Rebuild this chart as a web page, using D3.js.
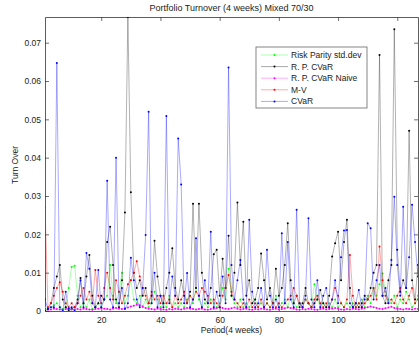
<!DOCTYPE html>
<html>
<head>
<meta charset="utf-8">
<script src="https://cdn.jsdelivr.net/npm/d3@7"></script>
<style>
  body { margin: 0; background: #fff; }
  svg { display: block; font-family: "Liberation Sans", Arial, sans-serif; }
</style>
</head>
<body>
<div id="chart"></div>
<script>
// periods 1..127
const periods = d3.range(1, 128);

const riskParity = [
  0.001, 0.0005, 0.001, 0.0015, 0.002, 0.001, 0.0005, 0.001, 0.006, 0.0115,
  0.0118, 0.004, 0.001, 0.002, 0.001, 0.003, 0.0005, 0.001, 0.002, 0.001,
  0.003, 0.004, 0.012, 0.004, 0.002, 0.005, 0.010, 0.002, 0.004, 0.008,
  0.003, 0.002, 0.004, 0.001, 0.003, 0.001, 0.002, 0.005, 0.003, 0.001,
  0.002, 0.001, 0.004, 0.001, 0.002, 0.001, 0.002, 0.001, 0.003, 0.004,
  0.002, 0.006, 0.003, 0.001, 0.002, 0.001, 0.003, 0.002, 0.001, 0.002,
  0.006, 0.003, 0.011, 0.004, 0.002, 0.001, 0.003, 0.001, 0.002, 0.001,
  0.002, 0.003, 0.001, 0.002, 0.001, 0.002, 0.001, 0.002, 0.004, 0.001,
  0.002, 0.003, 0.001, 0.004, 0.002, 0.001, 0.002, 0.001, 0.003, 0.002,
  0.001, 0.007, 0.003, 0.001, 0.002, 0.001, 0.002, 0.001, 0.003, 0.001,
  0.002, 0.001, 0.002, 0.001, 0.002, 0.001, 0.002, 0.003, 0.001, 0.004,
  0.002, 0.006, 0.004, 0.007, 0.0098, 0.005, 0.003, 0.002, 0.004, 0.001,
  0.003, 0.002, 0.005, 0.003, 0.001, 0.002, 0.004
];

const rpCvar = [
  0.0, 0.0005, 0.002, 0.006, 0.009, 0.012, 0.003, 0.001, 0.0, 0.0005,
  0.001, 0.003, 0.0086, 0.002, 0.009, 0.0146, 0.004, 0.001, 0.002, 0.004,
  0.003, 0.018, 0.022, 0.012, 0.003, 0.001, 0.008, 0.0257, 0.0767, 0.031,
  0.010, 0.006, 0.008, 0.004, 0.006, 0.002, 0.004, 0.0183, 0.009, 0.004,
  0.002, 0.006, 0.010, 0.0164, 0.006, 0.003, 0.008, 0.004, 0.002, 0.005,
  0.028, 0.006, 0.028, 0.010, 0.003, 0.002, 0.006, 0.0148, 0.016, 0.004,
  0.0136, 0.006, 0.0196, 0.004, 0.010, 0.0283, 0.012, 0.0233, 0.004, 0.008,
  0.002, 0.003, 0.006, 0.015, 0.008, 0.003, 0.006, 0.002, 0.011, 0.004,
  0.006, 0.012, 0.0229, 0.008, 0.002, 0.004, 0.001, 0.002, 0.006, 0.002,
  0.001, 0.002, 0.003, 0.0055, 0.002, 0.001, 0.004, 0.0142, 0.0177, 0.0207,
  0.008, 0.018, 0.0238, 0.006, 0.001, 0.002, 0.001, 0.002, 0.004, 0.003,
  0.006, 0.010, 0.012, 0.0668, 0.004, 0.002, 0.008, 0.012, 0.0735, 0.016,
  0.005, 0.008, 0.006, 0.047, 0.008, 0.003, 0.012
];

const rpCvarNaive = [
  0.0005, 0.0003, 0.0004, 0.0006, 0.0005, 0.0004, 0.0003, 0.0005, 0.0006, 0.0004,
  0.0003, 0.0005, 0.0004, 0.0006, 0.0005, 0.0004, 0.0003, 0.0005, 0.0006, 0.0008,
  0.0006, 0.0005, 0.0004, 0.0006, 0.0008, 0.0006, 0.0005, 0.0007, 0.0009, 0.0012,
  0.0014, 0.0016, 0.0015, 0.0012, 0.0008, 0.0006, 0.0005, 0.0004, 0.0006, 0.0005,
  0.0004, 0.0003, 0.0005, 0.0004, 0.0006, 0.0005, 0.0004, 0.0006, 0.0008, 0.0006,
  0.0005, 0.0004, 0.0005, 0.0006, 0.0004, 0.0003, 0.0005, 0.0006, 0.0008, 0.0010,
  0.0008, 0.0006, 0.0005, 0.0007, 0.0009, 0.0006, 0.0004, 0.0005, 0.0006, 0.0004,
  0.0003, 0.0005, 0.0004, 0.0006, 0.0005, 0.0004, 0.0003, 0.0005, 0.0006, 0.0004,
  0.0005, 0.0007, 0.0009, 0.0008, 0.0006, 0.0004, 0.0003, 0.0005, 0.0004, 0.0006,
  0.0005, 0.0004, 0.0003, 0.0005, 0.0006, 0.0004, 0.0005, 0.0006, 0.0008, 0.0006,
  0.0004, 0.0003, 0.0005, 0.0004, 0.0006, 0.0005, 0.0004, 0.0006, 0.0008, 0.0010,
  0.0012, 0.0010, 0.0008, 0.0006, 0.0005, 0.0007, 0.0009, 0.0011, 0.0008, 0.0006,
  0.0005, 0.0004, 0.0006, 0.0005, 0.0004, 0.0006, 0.0005
];

const meanVar = [
  0.027, 0.001, 0.002, 0.004, 0.006, 0.0075, 0.005, 0.002, 0.001, 0.002,
  0.001, 0.002, 0.004, 0.006, 0.003, 0.005, 0.002, 0.0107, 0.004, 0.002,
  0.006, 0.010, 0.006, 0.003, 0.008, 0.005, 0.002, 0.004, 0.007, 0.008,
  0.010, 0.013, 0.009, 0.006, 0.004, 0.002, 0.005, 0.003, 0.004, 0.002,
  0.004, 0.002, 0.003, 0.001, 0.004, 0.002, 0.003, 0.005, 0.002, 0.004,
  0.003, 0.005, 0.004, 0.006, 0.005, 0.004, 0.002, 0.003, 0.002, 0.001,
  0.004, 0.006, 0.0094, 0.005, 0.003, 0.002, 0.001, 0.002, 0.001, 0.003,
  0.001, 0.002, 0.001, 0.003, 0.001, 0.002, 0.001, 0.002, 0.001, 0.002,
  0.001, 0.002, 0.003, 0.004, 0.006, 0.004, 0.002, 0.001, 0.003, 0.002,
  0.001, 0.003, 0.004, 0.002, 0.001, 0.002, 0.001, 0.003, 0.006, 0.004,
  0.002, 0.001, 0.003, 0.0146, 0.004, 0.001, 0.002, 0.001, 0.002, 0.003,
  0.004, 0.006, 0.003, 0.0168, 0.008, 0.004, 0.002, 0.003, 0.002, 0.004,
  0.006, 0.003, 0.002, 0.004, 0.006, 0.002, 0.003
];

const cvar = [
  0.003, 0.0005, 0.001, 0.001, 0.0647, 0.001, 0.0, 0.005, 0.0005, 0.001,
  0.0, 0.002, 0.008, 0.001, 0.0151, 0.011, 0.002, 0.001, 0.0107, 0.001,
  0.003, 0.034, 0.003, 0.001, 0.040, 0.002, 0.006, 0.0005, 0.002, 0.0139,
  0.008, 0.003, 0.001, 0.006, 0.0198, 0.052, 0.002, 0.010, 0.001, 0.004,
  0.001, 0.0509, 0.002, 0.009, 0.004, 0.045, 0.033, 0.002, 0.0099, 0.001,
  0.003, 0.019, 0.004, 0.001, 0.008, 0.002, 0.0207, 0.001, 0.005, 0.001,
  0.009, 0.002, 0.0635, 0.012, 0.003, 0.008, 0.0133, 0.003, 0.001, 0.0238,
  0.005, 0.001, 0.002, 0.006, 0.001, 0.016, 0.004, 0.001, 0.003, 0.001,
  0.0203, 0.002, 0.018, 0.003, 0.001, 0.0264, 0.002, 0.001, 0.004, 0.0242,
  0.003, 0.001, 0.008, 0.001, 0.004, 0.006, 0.001, 0.003, 0.008, 0.002,
  0.014, 0.021, 0.0211, 0.002, 0.001, 0.002, 0.0055, 0.001, 0.003, 0.0229,
  0.0216, 0.003, 0.008, 0.012, 0.004, 0.006, 0.002, 0.0133, 0.0298, 0.012,
  0.004, 0.0272, 0.006, 0.014, 0.0277, 0.018, 0.009
];

const seriesNames = ['Risk Parity std.dev', 'R. P. CVaR', 'R. P. CVaR Naive', 'M-V', 'CVaR'];
const seriesValues = [riskParity, rpCvar, rpCvarNaive, meanVar, cvar];
const seriesColors = ['#00ff00', '#000000', '#ff00ff', '#ff0000', '#0000ff'];

const xTicks = [20, 40, 60, 80, 100, 120];
const yTicks = [0, 0.01, 0.02, 0.03, 0.04, 0.05, 0.06, 0.07];

const titleText = 'Portfolio Turnover (4 weeks) Mixed 70/30';
const xLabel = 'Period(4 weeks)';
const yLabel = 'Turn Over';

const W = 419, H = 337;
const margin = { top: 17, right: 1, bottom: 26, left: 45 };

const svg = d3.select('#chart').append('svg')
  .attr('width', W)
  .attr('height', H);

const x = d3.scaleLinear()
  .domain([1, 127])
  .range([margin.left, W - margin.right]);

const yMax = d3.max(seriesValues, s => d3.max(s));
const y = d3.scaleLinear()
  .domain([0, yMax])
  .range([H - margin.bottom, margin.top]);

svg.append('defs').append('clipPath').attr('id', 'clip')
  .append('rect')
  .attr('x', margin.left).attr('y', margin.top)
  .attr('width', W - margin.left - margin.right)
  .attr('height', H - margin.top - margin.bottom);

const tickLen = 4;
const axisColor = '#333';

// bottom / top axes (ticks inward)
svg.append('g')
  .attr('transform', `translate(0,${H - margin.bottom})`)
  .call(d3.axisBottom(x).tickValues(xTicks).tickSizeInner(-tickLen).tickSizeOuter(0).tickPadding(6));
svg.append('g')
  .attr('transform', `translate(0,${margin.top})`)
  .call(d3.axisTop(x).tickValues(xTicks).tickSizeInner(-tickLen).tickSizeOuter(0).tickFormat(''));

svg.append('g')
  .attr('transform', `translate(${margin.left},0)`)
  .call(d3.axisLeft(y).tickValues(yTicks).tickSizeInner(-tickLen).tickSizeOuter(0).tickPadding(4)
    .tickFormat(d => d === 0 ? '0' : d3.format('.2f')(d)));
svg.append('g')
  .attr('transform', `translate(${W - margin.right},0)`)
  .call(d3.axisRight(y).tickValues(yTicks).tickSizeInner(-tickLen).tickSizeOuter(0).tickFormat(''));

svg.selectAll('.domain').attr('stroke', axisColor).attr('stroke-width', 0.8);
svg.selectAll('.tick line').attr('stroke', axisColor).attr('stroke-width', 0.7);
svg.selectAll('.tick text').attr('fill', '#222').style('font-size', '8.5px');

// lines, thin and light like the downscaled matlab plot
const plot = svg.append('g').attr('clip-path', 'url(#clip)');
const line = d3.line()
  .x((d, i) => x(periods[i]))
  .y(d => y(d));

seriesValues.forEach((vals, k) => {
  const g = plot.append('g');
  g.append('path')
    .datum(vals)
    .attr('d', line)
    .attr('fill', 'none')
    .attr('stroke', seriesColors[k])
    .attr('stroke-opacity', k === 1 ? 0.38 : 0.42)
    .attr('stroke-width', 0.8);
  g.selectAll('circle')
    .data(vals)
    .join('circle')
    .attr('cx', (d, i) => x(periods[i]))
    .attr('cy', d => y(d))
    .attr('r', 1)
    .attr('fill', seriesColors[k]);
});

// title and labels
svg.append('text')
  .attr('x', (margin.left + W - margin.right) / 2)
  .attr('y', 11)
  .attr('text-anchor', 'middle')
  .attr('fill', '#222')
  .style('font-size', '9px')
  .text(titleText);

svg.append('text')
  .attr('x', (margin.left + W - margin.right) / 2)
  .attr('y', 333)
  .attr('text-anchor', 'middle')
  .attr('fill', '#222')
  .style('font-size', '8.5px')
  .text(xLabel);

svg.append('text')
  .attr('transform', `translate(18,${(margin.top + H - margin.bottom) / 2 + 1}) rotate(-90)`)
  .attr('text-anchor', 'middle')
  .attr('fill', '#222')
  .style('font-size', '8.5px')
  .text(yLabel);

// legend
const leg = svg.append('g').attr('transform', 'translate(256,47)');
leg.append('rect')
  .attr('width', 111).attr('height', 61)
  .attr('fill', '#fff')
  .attr('stroke', '#666')
  .attr('stroke-width', 0.8);
seriesNames.forEach((name, k) => {
  const row = leg.append('g').attr('transform', `translate(0,${8 + k * 11.6})`);
  row.append('line')
    .attr('x1', 5).attr('x2', 32)
    .attr('stroke', seriesColors[k])
    .attr('stroke-opacity', 0.42)
    .attr('stroke-width', 0.8);
  row.append('circle')
    .attr('cx', 18.5).attr('r', 1)
    .attr('fill', seriesColors[k]);
  row.append('text')
    .attr('x', 35).attr('y', 3)
    .attr('fill', '#222')
    .style('font-size', '8.5px')
    .text(name);
});
</script>
</body>
</html>
